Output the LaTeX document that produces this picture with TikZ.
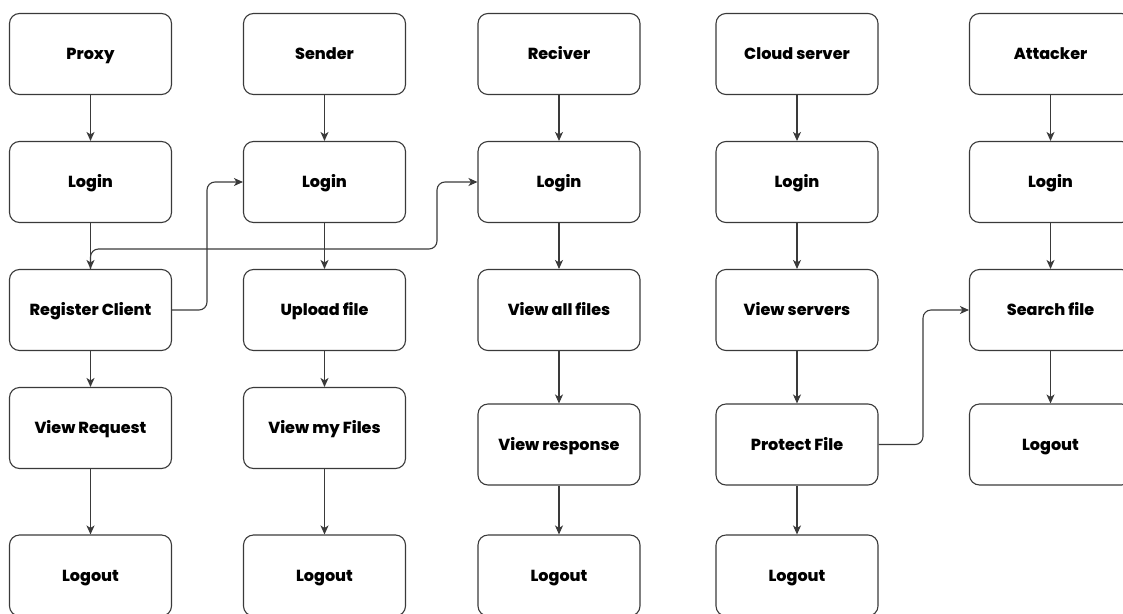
\documentclass[tikz,border=0pt]{standalone}
\usepackage{fontspec}
\setmainfont{Poppins}[BoldFont={Poppins ExtraBold}]
\usetikzlibrary{arrows.meta}
\definecolor{edge}{HTML}{3A3A3A}
\begin{document}
\begin{tikzpicture}[x=1pt,y=-1pt,
  box/.style={draw=edge, line width=1.1pt, rounded corners=10pt, minimum width=162pt, minimum height=81pt, inner sep=0pt, text height=11.5pt, text depth=0pt, font=\fontsize{16}{18}\selectfont\bfseries},
  flow/.style={draw=edge, line width=1.1pt, -{Stealth[length=9pt,width=8pt,inset=2.5pt]}, rounded corners=8pt}]
\clip (0,0) rectangle (1123,613);
% column 1
\node[box] (p1) at (90.5,54) {Proxy};
\node[box] (p2) at (90.5,182) {Login};
\node[box] (p3) at (90.5,310) {Register Client};
\node[box] (p4) at (90.5,428) {View Request};
\node[box] (p5) at (90.5,575.5) {Logout};
% column 2
\node[box] (s1) at (324.5,54) {Sender};
\node[box] (s2) at (324.5,182) {Login};
\node[box] (s3) at (324.5,310) {Upload file};
\node[box] (s4) at (324.5,428) {View my Files};
\node[box] (s5) at (324.5,575.5) {Logout};
% column 3
\node[box] (r1) at (559,54) {Reciver};
\node[box] (r2) at (559,182) {Login};
\node[box] (r3) at (559,310) {View all files};
\node[box] (r4) at (559,444.5) {View response};
\node[box] (r5) at (559,575.5) {Logout};
% column 4
\node[box] (c1) at (797,54) {Cloud server};
\node[box] (c2) at (797,182) {Login};
\node[box] (c3) at (797,310) {View servers};
\node[box] (c4) at (797,444.5) {Protect File};
\node[box] (c5) at (797,575.5) {Logout};
% column 5
\node[box] (a1) at (1050.5,54) {Attacker};
\node[box] (a2) at (1050.5,182) {Login};
\node[box] (a3) at (1050.5,310) {Search file};
\node[box] (a4) at (1050.5,444.5) {Logout};
% vertical arrows
\foreach \u/\v in {p1/p2,p2/p3,p3/p4,p4/p5,s1/s2,s2/s3,s3/s4,s4/s5,r1/r2,r2/r3,r3/r4,r4/r5,c1/c2,c2/c3,c3/c4,c4/c5,a1/a2,a2/a3,a3/a4}
  \draw[flow] (\u.south) -- (\v.north);
% cross connectors
\draw[flow] (p3.east) -- (207,310) -- (207,182) -- (s2.west);
\draw[flow] (p3.north) -- (90.5,249) -- (437,249) -- (437,182) -- (r2.west);
\draw[flow] (c4.east) -- (923,444.5) -- (923,310) -- (a3.west);
\end{tikzpicture}
\end{document}
